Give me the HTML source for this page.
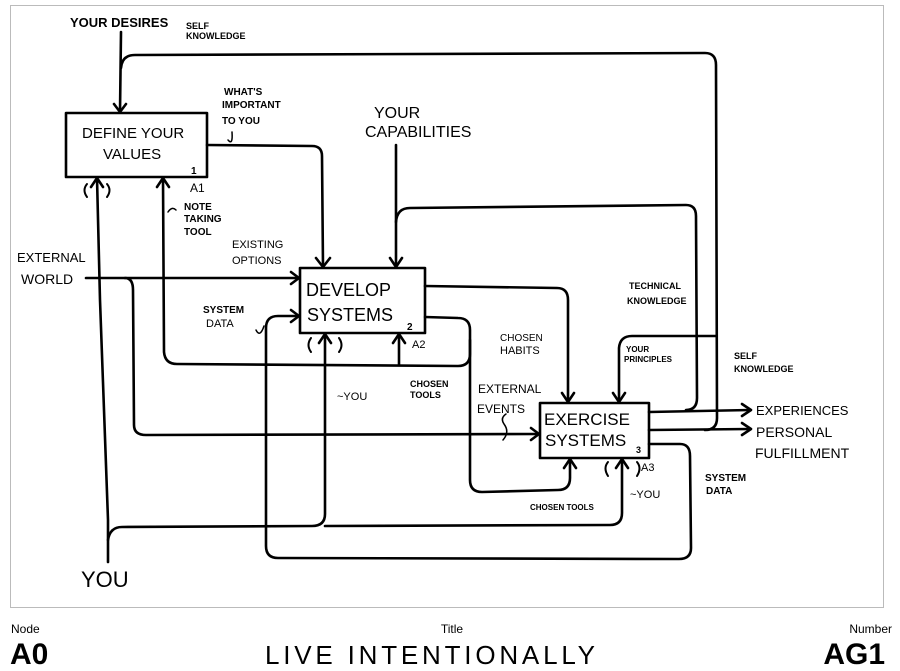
<!DOCTYPE html>
<html><head><meta charset="utf-8"><style>
html,body{margin:0;padding:0;background:#fff;}
svg{display:block;}
.t{font-family:"Liberation Sans",sans-serif;fill:#000;}
</style></head><body>
<svg width="900" height="671" viewBox="0 0 900 671" xmlns="http://www.w3.org/2000/svg">
<rect x="10.5" y="5.5" width="873" height="602" fill="#fff" stroke="#bbb" stroke-width="1"/>
<g fill="none" stroke="#000" stroke-width="2.6" stroke-linecap="round" stroke-linejoin="round">
<rect x="66" y="113" width="141" height="64"/>
<rect x="300" y="268" width="125" height="65"/>
<rect x="540" y="403" width="109" height="55"/>
<path d="M121 32 L120 112"/><path d="M114 104 L120 112 L126 104"/>
<path d="M121 68 Q122 55 135 55 L705 53 Q716 53 716 65 L717 418 Q717 430 705 430"/>
<path d="M207 145 L312 146 Q322 146 322 156 L323 267"/><path d="M316 258 L323 267 L330 258"/>
<path d="M396 145 L396 267"/><path d="M390 258 L396 267 L402 258"/>
<path d="M396 222 Q397 208 410 208 L686 205 Q696 205 696 216 L697 398 Q697 410 686 410"/>
<path d="M86 278 L299 278"/><path d="M291 272 L299 278 L291 284"/>
<path d="M125 278 Q133 278 133 290 L134 425 Q134 435 146 435 L539 434"/><path d="M531 428 L539 434 L531 440"/>
<path d="M163 178 L164 352 Q165 364 177 364 L458 366 Q470 366 470 354 L470 330 Q470 318 458 318 L425 317"/>
<path d="M157 187 L163 178 L169 187"/>
<path d="M399 365 L399 334"/><path d="M393 343 L399 334 L405 343"/>
<path d="M470 340 L470 480 Q470 492 482 492 L558 490 Q570 490 570 478 L570 459"/><path d="M564 468 L570 459 L576 468"/>
<path d="M425 286 L557 288 Q568 288 568 300 L568 402"/><path d="M562 393 L568 402 L574 393"/>
<path d="M619 402 L619 348 Q620 336 632 336 L716 336"/><path d="M613 393 L619 402 L625 393"/>
<path d="M649 412 L750 410"/><path d="M742 404 L751 410 L742 416"/>
<path d="M649 430 L750 429"/><path d="M742 423 L751 429 L742 435"/>
<path d="M649 444 L680 444 Q690 444 690 456 L691 548 Q691 559 679 559 L278 558 Q266 558 266 546 L266 328 Q266 316 278 316 L299 316"/><path d="M291 310 L299 316 L291 322"/>
<path d="M97 178 L100 300 L108 520 L108 562"/><path d="M91 187 L97 178 L103 187"/>
<path d="M108 540 Q110 527 122 527 L312 526 Q325 526 325 514 L325 334"/><path d="M319 343 L325 334 L331 343"/>
<path d="M325 526 L610 525 Q622 525 622 513 L622 459"/><path d="M616 468 L622 459 L628 468"/>
<path d="M87 184 Q82 190 87 197" stroke-width="2"/><path d="M107 184 Q112 190 107 197" stroke-width="2"/>
<path d="M311 338 Q306 345 311 352" stroke-width="2"/><path d="M339 338 Q344 345 339 352" stroke-width="2"/>
<path d="M608 462 Q603 468 608 476" stroke-width="2"/><path d="M637 462 Q642 468 637 476" stroke-width="2"/>
<path d="M228 140 Q233 146 232 132" stroke-width="1.5"/>
<path d="M168 212 Q172 206 176 210" stroke-width="1.5"/>
<path d="M256 330 Q260 338 264 326" stroke-width="1.5"/>
<path d="M503 440 Q510 432 504 424 Q500 418 506 414" stroke-width="1.5"/>
</g>
<g class="t">
<text x="70" y="27" font-size="13" font-weight="bold">YOUR DESIRES</text>
<text x="186" y="29" font-size="9" font-weight="bold">SELF</text>
<text x="186" y="39" font-size="9" font-weight="bold">KNOWLEDGE</text>
<text x="224" y="95" font-size="10" font-weight="bold">WHAT'S</text>
<text x="222" y="108" font-size="10" font-weight="bold">IMPORTANT</text>
<text x="222" y="124" font-size="10" font-weight="bold">TO YOU</text>
<text x="82" y="138" font-size="15">DEFINE YOUR</text>
<text x="103" y="159" font-size="15">VALUES</text>
<text x="191" y="174" font-size="10" font-weight="bold">1</text>
<text x="190" y="192" font-size="12">A1</text>
<text x="184" y="210" font-size="10" font-weight="bold">NOTE</text>
<text x="184" y="222" font-size="10" font-weight="bold">TAKING</text>
<text x="184" y="235" font-size="10" font-weight="bold">TOOL</text>
<text x="232" y="248" font-size="11">EXISTING</text>
<text x="232" y="264" font-size="11">OPTIONS</text>
<text x="17" y="262" font-size="13">EXTERNAL</text>
<text x="21" y="284" font-size="14">WORLD</text>
<text x="374" y="118" font-size="16">YOUR</text>
<text x="365" y="137" font-size="16">CAPABILITIES</text>
<text x="306" y="296" font-size="18">DEVELOP</text>
<text x="307" y="321" font-size="18">SYSTEMS</text>
<text x="407" y="330" font-size="10" font-weight="bold">2</text>
<text x="412" y="348" font-size="11">A2</text>
<text x="203" y="313" font-size="10" font-weight="bold">SYSTEM</text>
<text x="206" y="327" font-size="11">DATA</text>
<text x="410" y="387" font-size="9" font-weight="bold">CHOSEN</text>
<text x="410" y="398" font-size="9" font-weight="bold">TOOLS</text>
<text x="337" y="400" font-size="11">~YOU</text>
<text x="500" y="341" font-size="10">CHOSEN</text>
<text x="500" y="354" font-size="11">HABITS</text>
<text x="478" y="393" font-size="12">EXTERNAL</text>
<text x="477" y="413" font-size="12">EVENTS</text>
<text x="544" y="425" font-size="17">EXERCISE</text>
<text x="545" y="446" font-size="17">SYSTEMS</text>
<text x="636" y="453" font-size="9" font-weight="bold">3</text>
<text x="641" y="471" font-size="11">A3</text>
<text x="630" y="498" font-size="11">~YOU</text>
<text x="530" y="510" font-size="8" font-weight="bold">CHOSEN TOOLS</text>
<text x="629" y="289" font-size="9" font-weight="bold">TECHNICAL</text>
<text x="627" y="304" font-size="9" font-weight="bold">KNOWLEDGE</text>
<text x="626" y="352" font-size="8" font-weight="bold">YOUR</text>
<text x="624" y="362" font-size="8" font-weight="bold">PRINCIPLES</text>
<text x="734" y="359" font-size="9" font-weight="bold">SELF</text>
<text x="734" y="372" font-size="9" font-weight="bold">KNOWLEDGE</text>
<text x="705" y="481" font-size="10" font-weight="bold">SYSTEM</text>
<text x="706" y="494" font-size="10" font-weight="bold">DATA</text>
<text x="756" y="415" font-size="13">EXPERIENCES</text>
<text x="756" y="437" font-size="14">PERSONAL</text>
<text x="755" y="458" font-size="14">FULFILLMENT</text>
<text x="81" y="587" font-size="22">YOU</text>
<text x="11" y="633" font-size="12">Node</text>
<text x="10" y="664" font-size="30" font-weight="bold">A0</text>
<text x="452" y="633" font-size="12" text-anchor="middle">Title</text>
<text x="265" y="664" font-size="26" textLength="330" lengthAdjust="spacing">LIVE  INTENTIONALLY</text>
<text x="892" y="633" font-size="12" text-anchor="end">Number</text>
<text x="885" y="664" font-size="30" font-weight="bold" text-anchor="end">AG1</text>
</g>
</svg>
</body></html>
